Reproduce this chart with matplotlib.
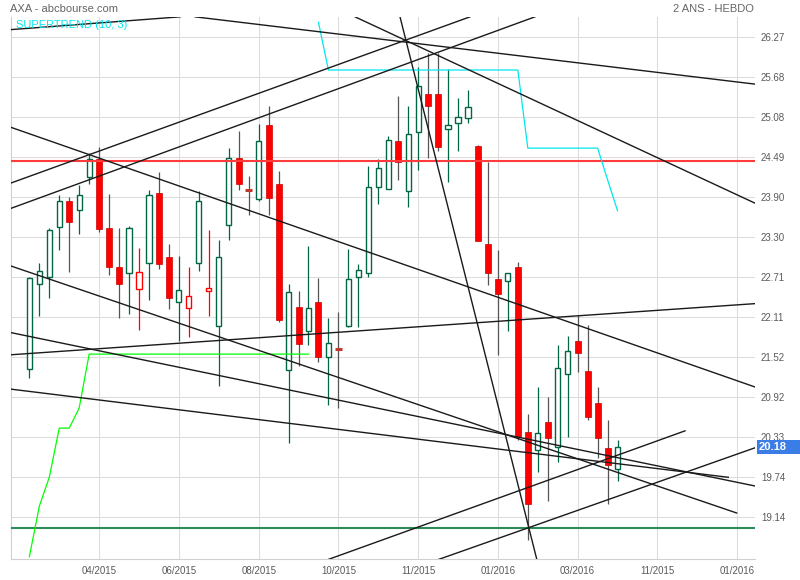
"""
AXA - bougies hebdomadaires (2 ans) avec supertrend et lignes de tendance.
Sortie : out.png (800x580)
"""

import matplotlib

matplotlib.use("Agg")
import matplotlib.pyplot as plt
from matplotlib.patches import Rectangle
from matplotlib.transforms import blended_transform_factory

plt.rcParams["font.family"] = ["Liberation Sans", "DejaVu Sans"]

# --- donnees (une bougie par semaine, index 0..59) ---
OUVERTURES = [21.34, 22.60, 22.70, 23.45, 23.83, 23.70, 24.19, 24.46, 23.43, 22.85,
              22.77, 22.52, 22.91, 23.95, 23.00, 22.33, 22.24, 22.92, 22.50, 21.98,
              23.48, 24.47, 24.00, 23.87, 24.96, 24.08, 21.33, 22.26, 21.91, 22.33,
              21.51, 21.63, 21.98, 22.70, 22.76, 24.04, 24.01, 24.73, 23.99, 24.86,
              25.42, 25.42, 24.91, 24.99, 25.06, 24.65, 23.20, 22.67, 22.65, 22.85,
              20.41, 20.13, 20.55, 20.18, 21.26, 21.75, 21.31, 20.83, 20.17, 19.85]
HAUTS = [22.71, 22.91, 23.43, 23.92, 23.89, 24.07, 24.54, 24.64, 23.94, 23.43,
         23.46, 23.14, 24.00, 24.27, 23.20, 23.02, 22.86, 23.98, 23.40, 23.25,
         24.62, 24.87, 24.21, 24.98, 25.24, 24.28, 22.60, 22.50, 23.16, 22.69,
         22.10, 22.18, 23.12, 22.90, 24.35, 24.46, 24.80, 25.39, 25.25, 25.83,
         26.03, 26.03, 25.80, 25.37, 25.49, 24.67, 24.42, 23.10, 22.76, 22.93,
         20.67, 21.07, 20.92, 21.69, 21.83, 22.14, 21.99, 21.07, 20.58, 20.29]
BAS = [21.21, 22.12, 22.40, 23.10, 22.78, 23.35, 24.08, 23.38, 22.74, 22.09,
       22.16, 21.92, 22.36, 22.83, 22.23, 21.76, 21.81, 22.79, 22.12, 21.08,
       23.26, 24.00, 23.62, 23.84, 23.63, 22.04, 20.24, 21.38, 21.70, 21.45,
       20.81, 20.76, 21.96, 21.96, 22.71, 23.79, 24.01, 24.15, 23.74, 24.29,
       24.47, 24.57, 24.12, 24.58, 25.00, 23.24, 22.58, 21.54, 21.91, 20.28,
       18.80, 19.81, 19.38, 19.95, 20.33, 21.30, 20.58, 20.01, 19.34, 19.68]
CLOTURES = [22.69, 22.79, 23.40, 23.83, 23.52, 23.92, 24.46, 23.42, 22.86, 22.60,
            23.43, 22.78, 23.92, 22.90, 22.40, 22.51, 22.42, 23.84, 22.54, 23.00,
            24.48, 24.09, 24.00, 24.72, 23.88, 22.06, 22.49, 21.71, 22.24, 21.52,
            21.72, 21.63, 22.67, 22.81, 24.04, 24.32, 24.74, 24.41, 24.83, 25.54,
            25.24, 24.64, 24.97, 25.08, 25.23, 23.24, 22.76, 22.45, 22.76, 20.33,
            19.34, 20.39, 20.31, 21.35, 21.61, 21.58, 20.63, 20.32, 19.91, 20.18]

SUPERTREND_BAS_X = [0, 1, 2, 3, 4, 5, 6, 28]
SUPERTREND_BAS_Y = [18.55, 19.30, 19.73, 20.46, 20.46, 20.76, 21.56, 21.56]
SUPERTREND_HAUT_X = [29, 30, 49, 50, 57, 58, 59]
SUPERTREND_HAUT_Y = [26.49, 25.78, 25.78, 24.62, 24.62, 24.15, 23.69]

RESISTANCE = 24.43
SUPPORT = 18.97

# lignes de tendance tracees a la main : (index debut, prix debut, index fin, prix fin)
TENDANCES = [
    (-1.87, 24.10, 44.20, 26.57),
    (-1.94, 23.72, 50.72, 26.57),
    (-1.87, 26.38, 15.12, 26.57),
    (16.62, 26.57, 72.82, 25.57),
    (32.67, 26.57, 72.82, 23.80),
    (37.18, 26.57, 50.92, 18.50),
    (-1.87, 24.93, 72.82, 21.07),
    (-1.87, 22.87, 70.95, 19.20),
    (-1.87, 21.88, 72.82, 19.60),
    (-1.87, 21.04, 70.11, 19.73),
    (-1.87, 21.55, 72.82, 22.31),
    (29.99, 18.51, 65.77, 20.42),
    (40.86, 18.50, 72.82, 20.17),
]

Y_TICKS = [19.14, 19.74, 20.33, 20.92, 21.52, 22.11, 22.71, 23.30, 23.90,
           24.49, 25.08, 25.68, 26.27]
X_TICKS = [7, 15, 23, 31, 39, 47, 55, 63, 71]
X_LABELS = ["04/2015", "06/2015", "08/2015", "10/2015", "11/2015",
            "01/2016", "03/2016", "11/2015", "01/2016"]

VERT = "#006644"
ROUGE = "#ff0000"
ROUGE_BORD = "#cc0000"
MECHE = "#555555"
DOJI = "#c0392b"
GRILLE = "#dddddd"
TEXTE = "#5a5a5a"


def dessiner_bougies(ax):
    for i, (o, h, l, c) in enumerate(zip(OUVERTURES, HAUTS, BAS, CLOTURES)):
        prec = CLOTURES[i - 1] if i else o
        couleur = ROUGE if c < prec else VERT
        if abs(c - o) < 0.005:
            ax.vlines(i, l, h, color=MECHE, lw=0.9, zorder=2)
            ax.hlines(c, i - 0.33, i + 0.33, color=DOJI, lw=2.2, zorder=3)
            continue
        if c > o:
            ax.vlines(i, l, h, color=couleur, lw=0.9, zorder=2)
            ax.bar(i, c - o, bottom=o, width=0.52, facecolor="white",
                   edgecolor=couleur, lw=1.0, zorder=3)
        else:
            meche = MECHE if couleur == ROUGE else couleur
            bord = ROUGE_BORD if couleur == ROUGE else couleur
            ax.vlines(i, l, h, color=meche, lw=0.9, zorder=2)
            ax.bar(i, o - c, bottom=c, width=0.6, facecolor=couleur,
                   edgecolor=bord, lw=0.5, zorder=3)


def main():
    fig = plt.figure(figsize=(8, 5.8), dpi=100)
    ax = fig.add_axes([10.7 / 800, 1 - 559.3 / 580, 744.6 / 800, 542.6 / 580])
    ax.set_xlim(-1.87, 72.82)
    ax.set_ylim(18.512, 26.572)

    ax.set_yticks(Y_TICKS)
    ax.set_yticklabels([f"{v:.2f}" for v in Y_TICKS])
    ax.set_xticks(X_TICKS)
    ax.set_xticklabels(X_LABELS)
    ax.yaxis.tick_right()
    ax.tick_params(axis="both", length=0, labelsize=7, labelcolor=TEXTE)
    ax.tick_params(axis="y", pad=4)
    ax.tick_params(axis="x", pad=5)
    ax.grid(True, color=GRILLE, lw=0.8, zorder=0)
    ax.set_axisbelow(True)
    for cote in ("top", "right"):
        ax.spines[cote].set_visible(False)
    for cote in ("left", "bottom"):
        ax.spines[cote].set_color("#d0d0d0")
        ax.spines[cote].set_linewidth(0.8)

    dessiner_bougies(ax)

    ax.axhline(RESISTANCE, color="#ff3b3b", lw=1.5, zorder=4)
    ax.axhline(SUPPORT, color="#2e8b57", lw=1.5, zorder=4)

    for x0, y0, x1, y1 in TENDANCES:
        ax.plot([x0, x1], [y0, y1], color="#1a1a1a", lw=1.0, zorder=5)

    ax.plot(SUPERTREND_BAS_X, SUPERTREND_BAS_Y, color="#00ff00", lw=0.9, zorder=4)
    ax.plot(SUPERTREND_HAUT_X, SUPERTREND_HAUT_Y, color="#00e8ee", lw=0.9, zorder=4)

    # etiquette du dernier cours
    dernier = CLOTURES[-1]
    trans = blended_transform_factory(fig.transFigure, ax.transData)
    ax.add_patch(Rectangle((756.7 / 800, dernier - 0.108), 43.3 / 800, 0.216,
                           transform=trans, facecolor="#3b7de6", edgecolor="none",
                           clip_on=False, zorder=1))
    ax.text(758.5 / 800, dernier, f"{dernier:.2f}", transform=trans, ha="left",
            va="center", color="white", fontsize=8, fontweight="bold", zorder=7)

    fig.text(10 / 800, 1 - 9 / 580, "AXA - abcbourse.com", ha="left",
             va="center", color="#666666", fontsize=8)
    fig.text(754 / 800, 1 - 9 / 580, "2 ANS - HEBDO", ha="right",
             va="center", color="#666666", fontsize=8)
    fig.text(16 / 800, 1 - 25 / 580, "SUPERTREND (10, 3)", ha="left",
             va="center", color="#00e5ee", fontsize=8)

    fig.savefig("out.png", dpi=100)
    plt.close(fig)


if __name__ == "__main__":
    main()
